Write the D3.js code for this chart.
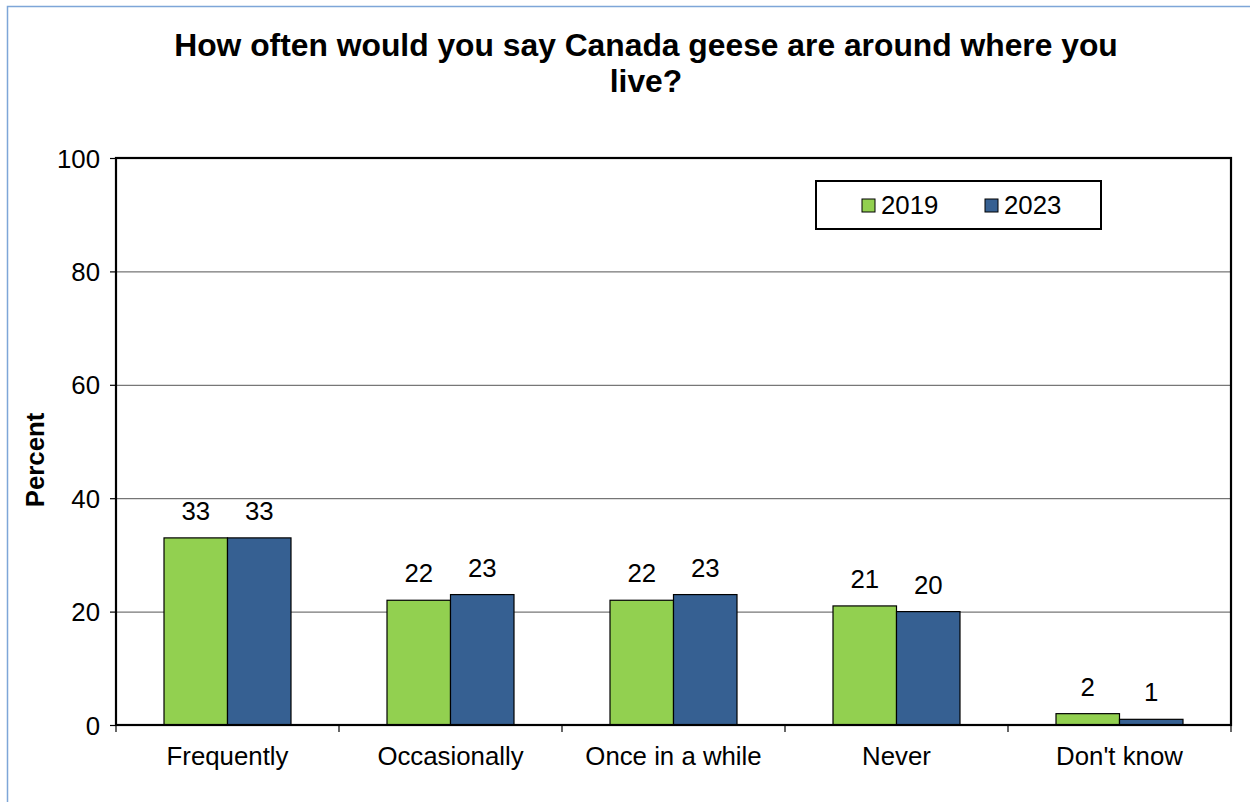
<!DOCTYPE html>
<html><head><meta charset="utf-8">
<script src="https://cdn.jsdelivr.net/npm/d3@7"></script>
<style>body{margin:0;background:#fff}svg{display:block}text{font-family:Arial,"Liberation Sans",sans-serif}</style>
</head><body>
<svg id="c" width="1250" height="802"></svg>
<script>
const categories = ["Frequently","Occasionally","Once in a while","Never","Don't know"];
const seriesNames = ["2019","2023"];
const values2019 = [33,22,22,21,2];
const values2023 = [33,23,23,20,1];
const yTicks = [0,20,40,60,80,100];
const colors = ["#92D050","#366092"];
const titleLines = ["How often would you say Canada geese are around where you","live?"];
const yLabel = "Percent";

const FS = 25.8;
const svg = d3.select("#c");
svg.append("rect").attr("x",0).attr("y",0).attr("width",1250).attr("height",802).attr("fill","#fff");
svg.append("path").attr("d","M7.5,802V6.5H1250").attr("fill","none").attr("stroke","#7EA6D8").attr("stroke-width",1.5);

const L=116,R=1231,T=158,B=725;
const x = d3.scaleBand().domain(categories).range([L,R]).paddingInner(0).paddingOuter(0);
const x1 = d3.scaleBand().domain(seriesNames).range([0,x.bandwidth()]).paddingInner(0).paddingOuter(0.756);
const y = d3.scaleLinear().domain([0,100]).range([B,T]);

svg.append("g").selectAll("line").data(yTicks.filter(d=>d>0&&d<100)).join("line")
  .attr("x1",L).attr("x2",R).attr("y1",d=>y(d)+0.5).attr("y2",d=>y(d)+0.5)
  .attr("stroke","#555").attr("stroke-width",1);

const data = categories.map((c,i)=>({c, vals:[values2019[i],values2023[i]]}));
const g = svg.append("g");
data.forEach(d=>{
  d.vals.forEach((v,j)=>{
    const bx = x(d.c)+x1(seriesNames[j]);
    g.append("rect").attr("x",bx).attr("y",y(v)).attr("width",x1.bandwidth()).attr("height",B-y(v))
      .attr("fill",colors[j]).attr("stroke","#000").attr("stroke-width",1.2);
    g.append("text").attr("x",bx+x1.bandwidth()/2).attr("y",y(v)-18).attr("text-anchor","middle")
      .attr("font-size",FS).attr("fill","#000").text(v);
  });
});

const yAxis = d3.axisLeft(y).tickValues(yTicks).tickSize(6).tickPadding(10);
const ya = svg.append("g").attr("transform",`translate(${L},0)`).call(yAxis);
ya.select(".domain").remove();
ya.selectAll("line").attr("stroke","#000").attr("stroke-width",1.2);
ya.selectAll("text").attr("font-size",FS).attr("fill","#000").attr("font-family","Arial,'Liberation Sans',sans-serif").attr("dy","0.35em");

const xa = svg.append("g").attr("transform",`translate(0,${B})`);
const bounds = categories.map(c=>x(c)).concat([R]);
xa.selectAll("line").data(bounds).join("line").attr("x1",d=>d).attr("x2",d=>d).attr("y1",0).attr("y2",7)
  .attr("stroke","#000").attr("stroke-width",1.2);
xa.selectAll("text").data(categories).join("text").attr("x",d=>x(d)+x.bandwidth()/2).attr("y",40)
  .attr("text-anchor","middle").attr("font-size",FS).attr("fill","#000").text(d=>d);

svg.append("rect").attr("x",L).attr("y",T).attr("width",R-L).attr("height",B-T)
  .attr("fill","none").attr("stroke","#000").attr("stroke-width",2.2);

svg.append("text").attr("transform","translate(44,460) rotate(-90)").attr("text-anchor","middle")
  .attr("font-size",FS).attr("font-weight","bold").text(yLabel);

svg.append("g").selectAll("text").data(titleLines).join("text").attr("x",646).attr("y",(d,i)=>56+i*36)
  .attr("text-anchor","middle").attr("font-size",31.8).attr("font-weight","bold").text(d=>d);

const lg = svg.append("g");
lg.append("rect").attr("x",816).attr("y",181).attr("width",285).attr("height",48)
  .attr("fill","#fff").attr("stroke","#000").attr("stroke-width",2);
const lx = [862,985];
seriesNames.forEach((s,i)=>{
  lg.append("rect").attr("x",lx[i]).attr("y",199).attr("width",13).attr("height",13)
    .attr("fill",colors[i]).attr("stroke","#000").attr("stroke-width",1);
  lg.append("text").attr("x",lx[i]+19).attr("y",214).attr("font-size",FS).text(s);
});
</script>
</body></html>
